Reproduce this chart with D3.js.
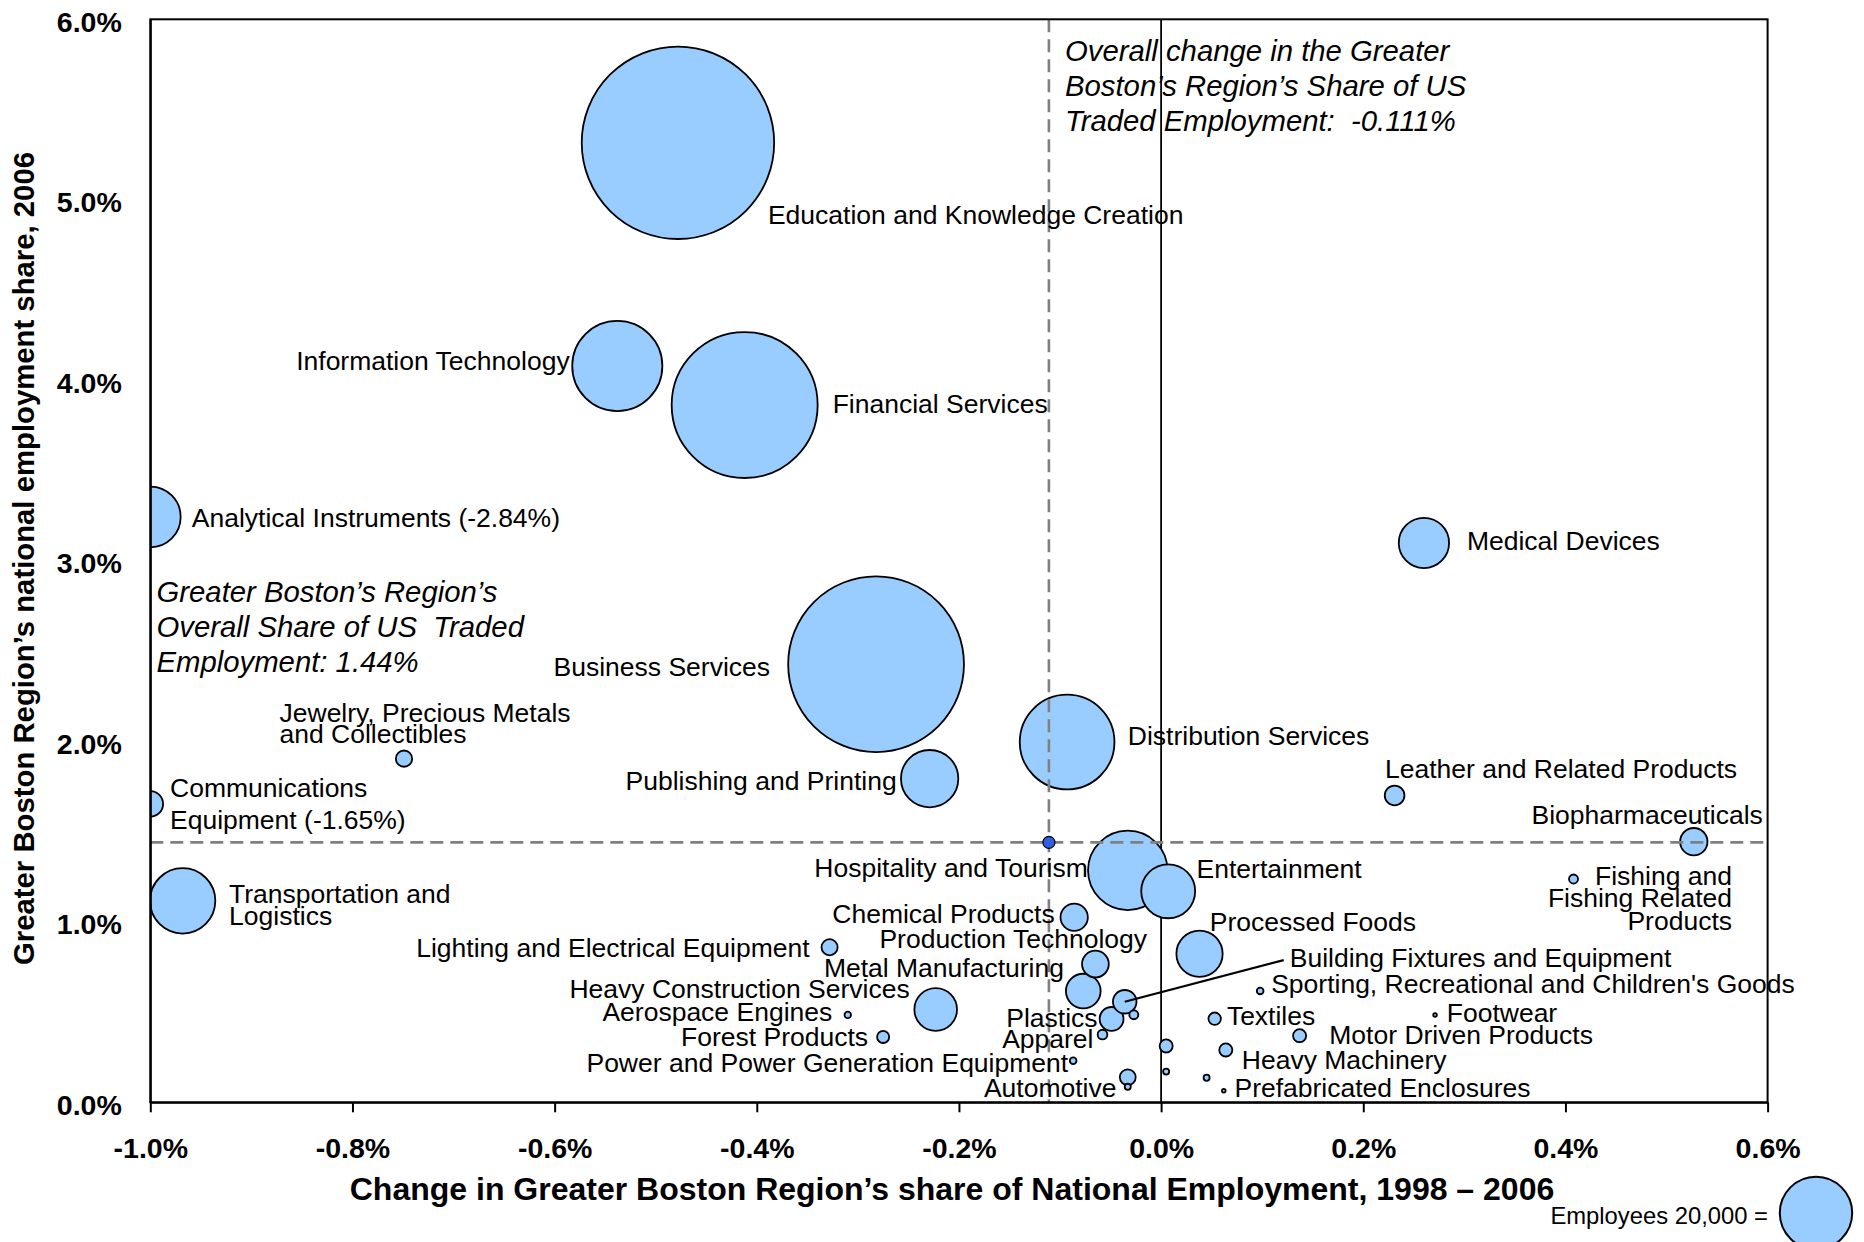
<!DOCTYPE html>
<html>
<head>
<meta charset="utf-8">
<script src="https://cdn.jsdelivr.net/npm/d3@7"></script>
<style>
  html, body { margin: 0; padding: 0; background: #fff; }
  svg { display: block; font-family: "Liberation Sans", Arial, Helvetica, sans-serif; }
  .pre { white-space: pre; }
</style>
</head>
<body>
<svg id="chart" width="1864" height="1242"></svg>
<script>
// ---- Traded clusters of the Greater Boston region ----
// "\n" marks a line break inside a label; empty names are drawn without a label.
const clusterNames = [
  "Education and Knowledge Creation", "Information Technology", "Financial Services",
  "Analytical Instruments", "Medical Devices", "Business Services", "Distribution Services",
  "Publishing and Printing", "Jewelry, Precious Metals\nand Collectibles", "Communications\nEquipment",
  "Transportation and\nLogistics", "Leather and Related Products", "Biopharmaceuticals",
  "Fishing and\nFishing Related\nProducts", "Hospitality and Tourism", "Entertainment",
  "Chemical Products", "Processed Foods", "Production Technology", "Metal Manufacturing",
  "Building Fixtures and Equipment", "Sporting, Recreational and Children's Goods",
  "Lighting and Electrical Equipment", "Heavy Construction Services", "Aerospace Engines",
  "Plastics", "Textiles", "Footwear", "Forest Products", "Apparel", "Motor Driven Products",
  "Power and Power Generation Equipment", "Heavy Machinery", "Automotive",
  "Prefabricated Enclosures", "", "", "", "", ""
];

// Change in the region's share of national employment, 1998–2006 (percentage points)
const shareChange = [
  -0.478, -0.538, -0.412, -2.84, 0.260, -0.282, -0.093, -0.229, -0.749, -1.65,
  -0.968, 0.231, 0.527, 0.408, -0.033, 0.007, -0.086, 0.038, -0.065, -0.077,
  -0.036, 0.098, -0.328, -0.223, -0.310, -0.049, 0.053, 0.271, -0.275, -0.058,
  0.137, -0.087, 0.064, -0.033, 0.062, -0.027, -0.033, 0.005, 0.005, 0.045
];

// Region's share of national employment in the cluster, 2006 (%)
const nationalShare = [
  5.316, 4.079, 3.863, 3.243, 3.099, 2.427, 1.996, 1.793, 1.904, 1.653,
  1.116, 1.700, 1.444, 1.237, 1.285, 1.169, 1.025, 0.823, 0.766, 0.616,
  0.557, 0.617, 0.859, 0.514, 0.484, 0.462, 0.463, 0.484, 0.362, 0.375,
  0.369, 0.230, 0.290, 0.139, 0.064, 0.485, 0.086, 0.312, 0.170, 0.136
];

// Cluster employment, 2006
const employees = [
  141300, 31000, 81300, 14070, 9650, 117900, 34230, 12540, 1010, 2490,
  16300, 1480, 2850, 310, 24080, 11090, 2850, 8160, 2730, 4590,
  2110, 170, 990, 6940, 160, 2170, 590, 50, 560, 360,
  650, 170, 650, 960, 50, 310, 140, 650, 140, 140
];

// Region-wide reference values
const overallChange = -0.111;   // change in share of US traded employment
const overallShare = 1.44;      // share of US traded employment
const legendEmployees = 20000;

const xTicks = [-1.0, -0.8, -0.6, -0.4, -0.2, 0.0, 0.2, 0.4, 0.6];
const yTicks = [0, 1, 2, 3, 4, 5, 6];

// ---- label placement: [dx, dy, anchor, line height] relative to the bubble centre ----
const labelLayout = [
  [90, 81, "start"], [-47.6, 4, "end"], [88, 8, "start"], [41.5, 9.7, "start"],
  [43, 7, "start"], [-106, 11.7, "end"], [60.7, 3, "start"], [-33, 11.3, "end"],
  [-124.5, -37, "start", 21.7], [19.7, -6.7, "start", 32], [46.4, 1.9, "start", 22.3],
  [-9.6, -17.2, "start"], [69, -18, "end"], [158.5, 6, "end", 22.3],
  [-40, 7, "end"], [28.4, -13, "start"], [-19.5, 5.4, "end"], [10.3, -23, "start"],
  [-216, -15.7, "start"], [-19.3, -14.5, "end"], [165, -35, "start"],
  [11, 2, "start"], [-20, 9.5, "end"], [-26, -11.2, "end"], [-15.5, 6, "end"],
  [-14, 8.3, "end"], [12.2, 6.2, "start"], [11.7, 6.7, "start"], [-15, 9, "end"],
  [-9, 13.6, "end"], [29.7, 8.3, "start"], [-5, 11, "end"], [16, 19.3, "start"],
  [-11.3, 19.5, "end"], [10.7, 6, "start"]
];
const leaderCluster = 20;          // label joined to its bubble by a line
const leaderEnd = [159, -41.7];

// ---- geometry ----
const plot = { left: 150.3, right: 1767.6, top: 19.3, bottom: 1102.3 };
const FONT_LABEL = 26.5;

const svg = d3.select("#chart");

const x = d3.scaleLinear().domain([-1.0, 0.6]).range([plot.left, plot.right]);
const y = d3.scaleLinear().domain([0, 6]).range([plot.bottom, plot.top]);
const r = d3.scaleSqrt().domain([0, legendEmployees]).range([0, 36.2]);

const xMin = x.domain()[0];

const data = clusterNames.map((name, i) => {
  const out = shareChange[i] < xMin;             // off-scale clusters sit on the left edge
  let text = name;
  if (out && name) text = name + " (" + shareChange[i].toFixed(2) + "%)";
  return {
    i, name, text,
    cx: x(Math.max(shareChange[i], xMin)),
    cy: y(nationalShare[i]),
    rad: r(employees[i]),
    emp: employees[i]
  };
});

svg.append("defs").append("clipPath").attr("id", "plot-clip")
  .append("rect")
  .attr("x", plot.left).attr("y", plot.top)
  .attr("width", plot.right - plot.left).attr("height", plot.bottom - plot.top);

// zero-change line
svg.append("line")
  .attr("x1", x(0)).attr("x2", x(0))
  .attr("y1", plot.top).attr("y2", plot.bottom)
  .attr("stroke", "#000").attr("stroke-width", 1.8);

// bubbles, largest first so small ones stay visible
svg.append("g").attr("clip-path", "url(#plot-clip)")
  .selectAll("circle")
  .data(data.slice().sort((a, b) => b.emp - a.emp))
  .join("circle")
  .attr("cx", d => d.cx).attr("cy", d => d.cy).attr("r", d => d.rad)
  .attr("fill", "#99ccff").attr("stroke", "#000").attr("stroke-width", 1.8);

// region-wide reference lines
const refLines = svg.append("g")
  .attr("stroke", "#808080").attr("stroke-width", 2.6).attr("stroke-dasharray", "13,7");
refLines.append("line")
  .attr("x1", x(overallChange)).attr("x2", x(overallChange))
  .attr("y1", plot.top).attr("y2", plot.bottom);
refLines.append("line")
  .attr("x1", plot.left).attr("x2", plot.right)
  .attr("y1", y(overallShare)).attr("y2", y(overallShare));

svg.append("circle")
  .attr("cx", x(overallChange)).attr("cy", y(overallShare)).attr("r", 6)
  .attr("fill", "#3060e0").attr("stroke", "#000").attr("stroke-width", 1.2);

// leader line
const lead = data[leaderCluster];
svg.append("line")
  .attr("x1", lead.cx).attr("y1", lead.cy)
  .attr("x2", lead.cx + leaderEnd[0]).attr("y2", lead.cy + leaderEnd[1])
  .attr("stroke", "#000").attr("stroke-width", 2.2);

// bubble labels
const labels = svg.append("g").attr("font-size", FONT_LABEL).attr("fill", "#000");
data.forEach(d => {
  if (!d.text) return;
  const [dx, dy, anchor, lh] = labelLayout[d.i];
  const lines = d.text.split("\n");
  const t = labels.append("text")
    .attr("x", d.cx + dx).attr("y", d.cy + dy)
    .attr("text-anchor", anchor);
  lines.forEach((ln, k) => {
    t.append("tspan")
      .attr("x", d.cx + dx)
      .attr("y", d.cy + dy + k * (lh || 22))
      .text(ln);
  });
});

// plot frame
svg.append("rect")
  .attr("x", plot.left).attr("y", plot.top)
  .attr("width", plot.right - plot.left).attr("height", plot.bottom - plot.top)
  .attr("fill", "none").attr("stroke", "#000").attr("stroke-width", 2);

// x axis
const gx = svg.append("g")
  .attr("transform", `translate(0,${plot.bottom})`)
  .call(d3.axisBottom(x).tickValues(xTicks).tickSize(10).tickSizeOuter(0)
    .tickFormat(d => d.toFixed(1) + "%"));
gx.select(".domain").attr("stroke", "#000").attr("stroke-width", 2);
gx.selectAll(".tick line").attr("stroke", "#000").attr("stroke-width", 2);
gx.selectAll(".tick text")
  .attr("y", 56).attr("dy", null)
  .attr("font-size", 28.5).attr("font-weight", "bold")
  .attr("font-family", "'Liberation Sans', Arial, sans-serif").attr("fill", "#000");

// y axis
const gy = svg.append("g")
  .attr("transform", `translate(${plot.left},0)`)
  .call(d3.axisLeft(y).tickValues(yTicks).tickSize(0).tickSizeOuter(0)
    .tickFormat(d => d.toFixed(1) + "%"));
gy.select(".domain").attr("stroke", "#000").attr("stroke-width", 2);
gy.selectAll(".tick text")
  .attr("x", -28.5).attr("y", 12).attr("dy", null)
  .attr("font-size", 28.5).attr("font-weight", "bold")
  .attr("font-family", "'Liberation Sans', Arial, sans-serif").attr("fill", "#000");

// axis titles
svg.append("text")
  .attr("x", 952).attr("y", 1200)
  .attr("text-anchor", "middle").attr("font-size", 32).attr("font-weight", "bold")
  .text("Change in Greater Boston Region\u2019s share of National Employment, 1998 \u2013 2006");

svg.append("text")
  .attr("transform", "translate(33.5,558.5) rotate(-90)")
  .attr("text-anchor", "middle").attr("font-size", 29.3).attr("font-weight", "bold")
  .text("Greater Boston Region\u2019s national employment share, 2006");

// annotations
function note(xPos, yPos, lines) {
  const t = svg.append("text").attr("class", "pre")
    .attr("font-size", 29.3).attr("font-style", "italic").attr("fill", "#000");
  lines.forEach((ln, k) => {
    t.append("tspan").attr("x", xPos).attr("y", yPos + k * 35.2).text(ln);
  });
}
note(156.5, 601.7, [
  "Greater Boston\u2019s Region\u2019s",
  "Overall Share of US  Traded",
  "Employment: " + overallShare.toFixed(2) + "%"
]);
note(1065, 61, [
  "Overall change in the Greater",
  "Boston\u2019s Region\u2019s Share of US",
  "Traded Employment:  " + overallChange.toFixed(3) + "%"
]);

// size legend
svg.append("text")
  .attr("x", 1768).attr("y", 1224)
  .attr("text-anchor", "end").attr("font-size", 23.8)
  .text("Employees " + d3.format(",")(legendEmployees) + " =");
svg.append("circle")
  .attr("cx", 1816).attr("cy", 1213).attr("r", r(legendEmployees))
  .attr("fill", "#99ccff").attr("stroke", "#000").attr("stroke-width", 2);
</script>
</body>
</html>
